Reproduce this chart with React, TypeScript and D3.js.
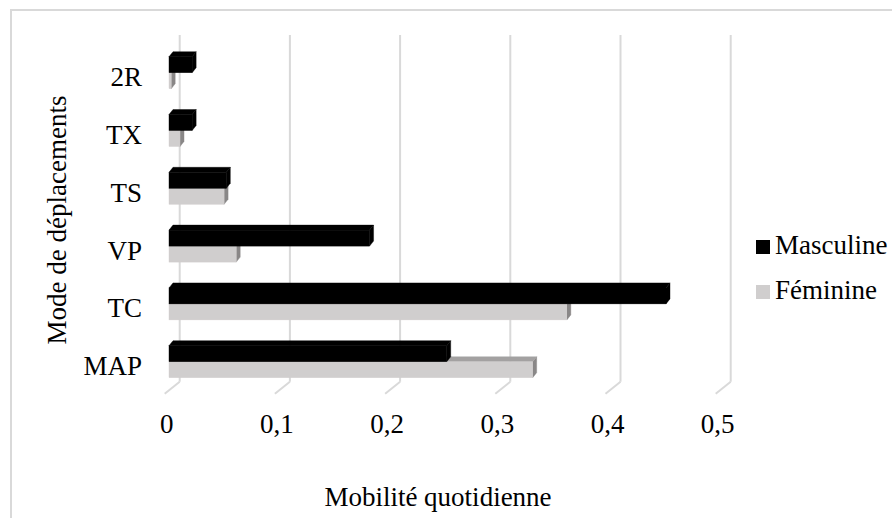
import React from "react";
import * as d3 from "d3";

const categories = ["2R", "TX", "TS", "VP", "TC", "MAP"];
const masculine = [0.021, 0.021, 0.052, 0.182, 0.451, 0.252];
const feminine = [0.002, 0.01, 0.05, 0.061, 0.361, 0.33];
const tickValues = [0, 0.1, 0.2, 0.3, 0.4, 0.5];
const tickLabels = ["0", "0,1", "0,2", "0,3", "0,4", "0,5"];
const seriesNames = ["Masculine", "Féminine"];

const W = 892;
const H = 518;
const FONT = "'Liberation Serif', 'Times New Roman', serif";
const FS = 27;

const GRID = "#d9d9d9";
const BLACK = "#000000";
const GREY_FRONT = "#d0cece";
const GREY_TOP = "#a3a1a1";
const GREY_SIDE = "#898787";

export default function App() {
  const xFront = d3.scaleLinear().domain([0, 0.5]).range([169, 169 + 551]);
  const xBack = d3.scaleLinear().domain([0, 0.5]).range([179.7, 179.7 + 551]);
  const y = d3.scaleBand().domain(categories).range([43.8, 390.6]).padding(0);

  const DX = 4;
  const DY = -5;
  const FH = 16;
  const gridTop = 35;
  const gridBottom = 381.7;
  const floorDX = -15;
  const floorDY = 12;

  const poly = (pts: [number, number][]) => pts.map((p) => p.join(",")).join(" ");

  const bar = (x0: number, x1: number, y0: number, y1: number, front: string, top: string, side: string, key: string) => (
    <g key={key}>
      <polygon points={poly([[x1, y0], [x1 + DX, y0 + DY], [x1 + DX, y1 + DY], [x1, y1]])} fill={side} stroke={side} strokeWidth={0.4} strokeLinejoin="round" />
      <polygon points={poly([[x0, y0], [x0 + DX, y0 + DY], [x1 + DX, y0 + DY], [x1, y0]])} fill={top} stroke={top} strokeWidth={0.4} strokeLinejoin="round" />
      <rect x={x0} y={y0} width={Math.max(0, x1 - x0)} height={y1 - y0} fill={front} stroke={front} strokeWidth={0.4} />
    </g>
  );

  return (
    <div style={{ position: "fixed", left: 0, top: 0, width: W, height: H }}>
      <svg width={W} height={H} style={{ display: "block" }} fontFamily={FONT}>
        <rect x={0} y={0} width={W} height={H} fill="#ffffff" />
        <rect x={11} y={10} width={W + 20} height={H + 20} fill="none" stroke={GRID} strokeWidth={2} />
        {tickValues.map((v, i) => (
          <g key={"g" + i}>
            <line x1={xBack(v)} x2={xBack(v)} y1={gridTop} y2={gridBottom} stroke={GRID} strokeWidth={2} />
            <line x1={xBack(v)} x2={xBack(v) + floorDX} y1={gridBottom} y2={gridBottom + floorDY} stroke={GRID} strokeWidth={2} />
            <text x={xBack(v) - 13} y={433} fontSize={FS} textAnchor="middle" fill="#000">
              {tickLabels[i]}
            </text>
          </g>
        ))}
        {categories.map((c, i) => {
          const center = (y(c) as number) + y.bandwidth() / 2;
          return (
            <g key={c}>
              {bar(xFront(0), xFront(feminine[i]), center, center + FH, GREY_FRONT, GREY_TOP, GREY_SIDE, "f")}
              {bar(xFront(0), xFront(masculine[i]), center - FH, center, BLACK, BLACK, BLACK, "m")}
              <text x={142} y={center + 13.5} fontSize={FS} textAnchor="end" fill="#000">
                {c}
              </text>
            </g>
          );
        })}
        <text transform={`translate(66,220) rotate(-90)`} fontSize={FS} textAnchor="middle" fill="#000">
          Mode de déplacements
        </text>
        <text x={438} y={506} fontSize={FS} textAnchor="middle" fill="#000">
          Mobilité quotidienne
        </text>
        <rect x={756} y={240} width={14} height={14} fill={BLACK} />
        <text x={775} y={254} fontSize={FS} fill="#000">{seriesNames[0]}</text>
        <rect x={756} y={285} width={14} height={14} fill={GREY_FRONT} />
        <text x={775} y={299} fontSize={FS} fill="#000">{seriesNames[1]}</text>
      </svg>
    </div>
  );
}
